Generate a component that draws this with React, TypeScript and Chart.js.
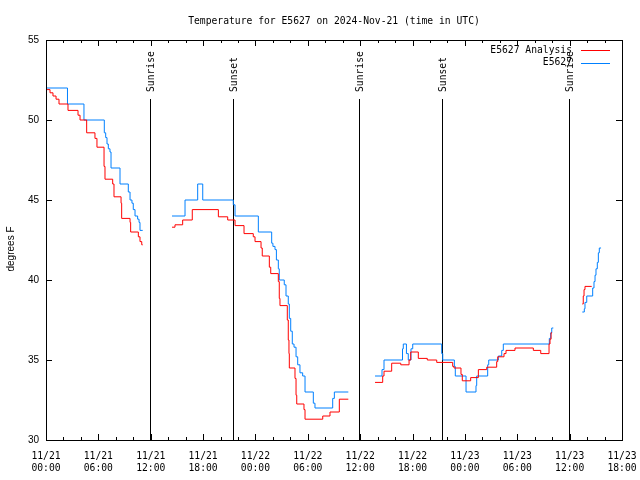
import React, { useEffect, useRef } from 'react';
import { Chart, registerables } from 'chart.js';

Chart.register(...registerables);

// Hours since 2024-11-21 00:00 UTC; null temperature = gap in the record
const analysisHours = [
  0.0, 0.46, 0.8, 1.15, 1.49, 2.52, 3.67, 3.9, 4.66, 5.61, 5.84, 6.65, 6.76, 7.64, 7.79, 8.6, 8.67, 9.63, 9.7, 10.58, 10.77, 10.97, 11.08,
  12.5,
  14.44, 14.78, 15.66, 16.76, 19.75, 20.82, 21.66, 22.69, 23.75, 23.95, 24.64, 24.78, 25.59, 25.75, 26.62, 26.73, 26.81, 27.65, 27.76, 27.84, 27.88, 28.53, 28.65, 28.73, 29.56, 29.68, 31.71, 32.54, 33.61, 34.64,
  36.0,
  37.7, 38.58, 38.73, 39.61, 40.65, 41.6, 41.79, 42.66, 43.69, 44.77, 46.6, 46.75, 47.55, 47.7, 48.66, 49.54, 50.5, 51.64, 51.76, 52.48, 52.71, 53.74, 55.84, 56.69, 57.64, 57.75, 57.87, 57.98,
  60.0,
  61.45, 61.56, 61.65, 61.76, 62.53,
];
const analysisTemps = [
  51.9, 51.7, 51.5, 51.3, 51.0, 50.6, 50.3, 50.0, 49.2, 48.85, 48.3, 47.1, 46.3, 46.0, 45.2, 44.8, 43.85, 43.6, 43.0, 42.7, 42.4, 42.2, 42.2,
  null,
  43.3, 43.45, 43.75, 44.4, 43.95, 43.75, 43.4, 42.9, 42.7, 42.4, 42.0, 41.5, 40.8, 40.4, 39.9, 38.85, 38.4, 37.5, 36.25, 35.4, 34.5, 33.85, 32.8, 32.25, 31.9, 31.3, 31.5, 31.75, 32.55, 32.55,
  null,
  33.6, 34.0, 34.3, 34.8, 34.7, 35.0, 35.5, 35.1, 35.0, 34.85, 34.6, 34.5, 34.1, 33.7, 33.9, 34.4, 34.55, 34.9, 35.2, 35.4, 35.6, 35.75, 35.6, 35.4, 36.0, 36.3, 36.7, 36.7,
  null,
  38.5, 39.0, 39.4, 39.6, 39.6,
];

const observedHours = [
  0.0, 2.46, 4.35, 6.68, 6.84, 6.99, 7.14, 7.33, 7.45, 8.48, 9.43, 9.63, 9.85, 10.0, 10.2, 10.5, 10.66, 10.77, 11.08,
  12.5,
  14.44, 15.93, 17.38, 17.96, 21.46, 21.66, 24.33, 25.86, 26.0, 26.24, 26.4, 26.62, 26.73, 27.3, 27.5, 27.76, 27.88, 28.04, 28.22, 28.42, 28.65, 28.84, 29.1, 29.41, 29.68, 30.63, 30.82, 32.85, 33.04, 34.64,
  36.0,
  37.7, 38.5, 38.73, 40.85, 40.94, 41.3, 41.51, 41.82, 42.02, 45.34, 45.46, 46.79, 46.9, 48.13, 49.27, 49.35, 50.61, 50.73, 51.83, 52.22, 52.4, 57.67, 57.83, 57.95, 58.13,
  60.0,
  61.45, 61.68, 61.76, 61.96, 62.64, 62.79, 62.91, 63.02, 63.17, 63.29, 63.4, 63.6,
];
const observedTemps = [
  52.0, 51.0, 50.0, 49.2, 48.9, 48.5, 48.2, 48.0, 47.0, 46.0, 45.5, 45.0, 44.8, 44.4, 44.0, 43.8, 43.6, 43.1, 43.1,
  null,
  44.0, 45.0, 46.0, 45.0, 44.7, 44.0, 43.0, 42.3, 42.1, 41.9, 41.25, 40.7, 40.0, 39.7, 39.0, 38.5, 37.6, 36.8, 36.0, 35.8, 35.2, 34.7, 34.2, 34.0, 33.0, 32.3, 32.0, 32.6, 33.0, 33.0,
  null,
  34.0, 34.4, 35.0, 35.7, 36.0, 35.4, 35.0, 35.7, 36.0, 35.4, 35.0, 34.6, 34.0, 33.0, 33.4, 34.0, 34.7, 35.0, 35.25, 35.6, 36.0, 36.35, 36.7, 37.0, 37.0,
  null,
  38.0, 38.2, 38.6, 39.0, 39.5, 39.9, 40.3, 40.7, 41.1, 41.7, 42.0, 42.0,
];

const eventHours = [11.97, 21.46, 35.92, 45.41, 59.96];
const eventLabels = ['Sunrise', 'Sunset', 'Sunrise', 'Sunset', 'Sunrise'];

const seriesLabels = ['E5627 Analysis', 'E5627'];
const seriesColors = ['#ff0000', '#0080ff'];

const titleText = 'Temperature for E5627 on 2024-Nov-21 (time in UTC)';
const yAxisTitle = 'degrees F';
const startMonth = 11;
const startDay = 21;

const MONO = '"DejaVu Sans Mono", "Liberation Mono", monospace';
const SANS = '"Liberation Sans", Arial, sans-serif';

const overlayPlugin = {
  id: 'overlay',
  beforeDatasetsDraw(chart: any) {
    const { ctx, chartArea, scales } = chart;
    const { top, bottom } = chartArea;
    const x = scales.x;
    ctx.save();
    ctx.strokeStyle = '#000';
    ctx.fillStyle = '#000';
    ctx.lineWidth = 1;
    ctx.font = `9.7px ${MONO}`;
    eventHours.forEach((h, i) => {
      const px = Math.round(x.getPixelForValue(h)) + 0.5;
      ctx.beginPath();
      ctx.moveTo(px, bottom);
      ctx.lineTo(px, top + 59);
      ctx.stroke();
      ctx.save();
      ctx.translate(px + 1, top + 52);
      ctx.rotate(-Math.PI / 2);
      ctx.textAlign = 'left';
      ctx.textBaseline = 'middle';
      ctx.fillText(eventLabels[i], 0, 0);
      ctx.restore();
    });
    ctx.restore();
  },
  afterDatasetsDraw(chart: any) {
    const { ctx, chartArea, scales } = chart;
    const { top, bottom, left, right } = chartArea;
    const x = scales.x;
    const y = scales.y;
    ctx.save();
    ctx.strokeStyle = '#000';
    ctx.lineWidth = 1;
    // frame
    ctx.strokeRect(Math.round(left) + 0.5, Math.round(top) + 0.5, Math.round(right - left), Math.round(bottom - top));
    // x ticks (inward, mirrored)
    ctx.beginPath();
    x.ticks.forEach((t: any) => {
      const px = Math.round(x.getPixelForValue(t.value)) + 0.5;
      const len = t.value % 6 === 0 ? 6 : 3;
      ctx.moveTo(px, bottom);
      ctx.lineTo(px, bottom - len);
      ctx.moveTo(px, top);
      ctx.lineTo(px, top + len);
    });
    y.ticks.forEach((t: any) => {
      const py = Math.round(y.getPixelForValue(t.value)) + 0.5;
      ctx.moveTo(left, py);
      ctx.lineTo(left + 6, py);
      ctx.moveTo(right, py);
      ctx.lineTo(right - 6, py);
    });
    ctx.stroke();

    // legend
    ctx.font = `9.7px ${MONO}`;
    ctx.fillStyle = '#000';
    ctx.textAlign = 'right';
    ctx.textBaseline = 'middle';
    chart.data.datasets.forEach((ds: any, i: number) => {
      const ly = top + 10 + i * 12.5;
      ctx.fillText(ds.label, 572, ly);
      ctx.strokeStyle = ds.borderColor;
      ctx.beginPath();
      ctx.moveTo(581, Math.round(ly) + 0.5);
      ctx.lineTo(610, Math.round(ly) + 0.5);
      ctx.stroke();
    });

    // title
    ctx.textAlign = 'center';
    ctx.fillText(titleText, (left + right) / 2, 21);

    // y axis title
    ctx.font = `10px ${SANS}`;
    ctx.save();
    ctx.translate(11, 249);
    ctx.rotate(-Math.PI / 2);
    ctx.textAlign = 'center';
    ctx.textBaseline = 'middle';
    ctx.fillText(yAxisTitle, 0, 0);
    ctx.restore();
    ctx.restore();
  },
};

function toPoints(hours: number[], temps: (number | null)[]) {
  return hours.map((h, i) => ({ x: h, y: temps[i] }));
}

export default function App() {
  const canvasRef = useRef<HTMLCanvasElement | null>(null);

  useEffect(() => {
    const canvas = canvasRef.current;
    if (!canvas) return;
    const chart = new Chart(canvas, {
      type: 'line',
      data: {
        datasets: [
          {
            label: seriesLabels[0],
            data: toPoints(analysisHours, analysisTemps) as any,
            borderColor: seriesColors[0],
            backgroundColor: seriesColors[0],
            borderWidth: 1,
            pointRadius: 0,
            stepped: true,
            spanGaps: false,
            fill: false,
          },
          {
            label: seriesLabels[1],
            data: toPoints(observedHours, observedTemps) as any,
            borderColor: seriesColors[1],
            backgroundColor: seriesColors[1],
            borderWidth: 1,
            pointRadius: 0,
            stepped: true,
            spanGaps: false,
            fill: false,
          },
        ],
      },
      options: {
        responsive: false,
        animation: false,
        maintainAspectRatio: false,
        layout: { padding: { top: 40, right: 18, left: 0, bottom: 0 } },
        plugins: {
          legend: { display: false },
          title: { display: false },
          tooltip: { enabled: false },
        },
        scales: {
          x: {
            type: 'linear',
            min: 0,
            max: 66,
            offset: false,
            grid: { display: false, drawTicks: false },
            border: { display: false },
            afterFit: (s: any) => {
              s.height = 40;
              s.paddingLeft = 0;
              s.paddingRight = 0;
            },
            ticks: {
              stepSize: 2,
              autoSkip: false,
              maxRotation: 0,
              minRotation: 0,
              padding: 10,
              color: '#000',
              font: { family: MONO, size: 9.7, lineHeight: 1.25 },
              callback: (v: any) => {
                const n = Number(v);
                if (n % 6 !== 0) return '';
                const d = startDay + Math.floor(n / 24);
                const hh = n % 24;
                return [`${startMonth}/${d}`, `${String(hh).padStart(2, '0')}:00`];
              },
            },
          },
          y: {
            type: 'linear',
            min: 30,
            max: 55,
            grid: { display: false, drawTicks: false },
            border: { display: false },
            afterFit: (s: any) => {
              s.width = 46;
              s.paddingTop = 0;
              s.paddingBottom = 0;
            },
            ticks: {
              stepSize: 5,
              padding: 7,
              color: '#000',
              font: { family: SANS, size: 10 },
            },
          },
        },
      },
      plugins: [overlayPlugin],
    });
    return () => chart.destroy();
  }, []);

  return (
    <div style={{ position: 'fixed', left: 0, top: 0, width: 640, height: 480, background: '#fff' }}>
      <canvas ref={canvasRef} width={640} height={480} style={{ display: 'block' }} />
    </div>
  );
}
